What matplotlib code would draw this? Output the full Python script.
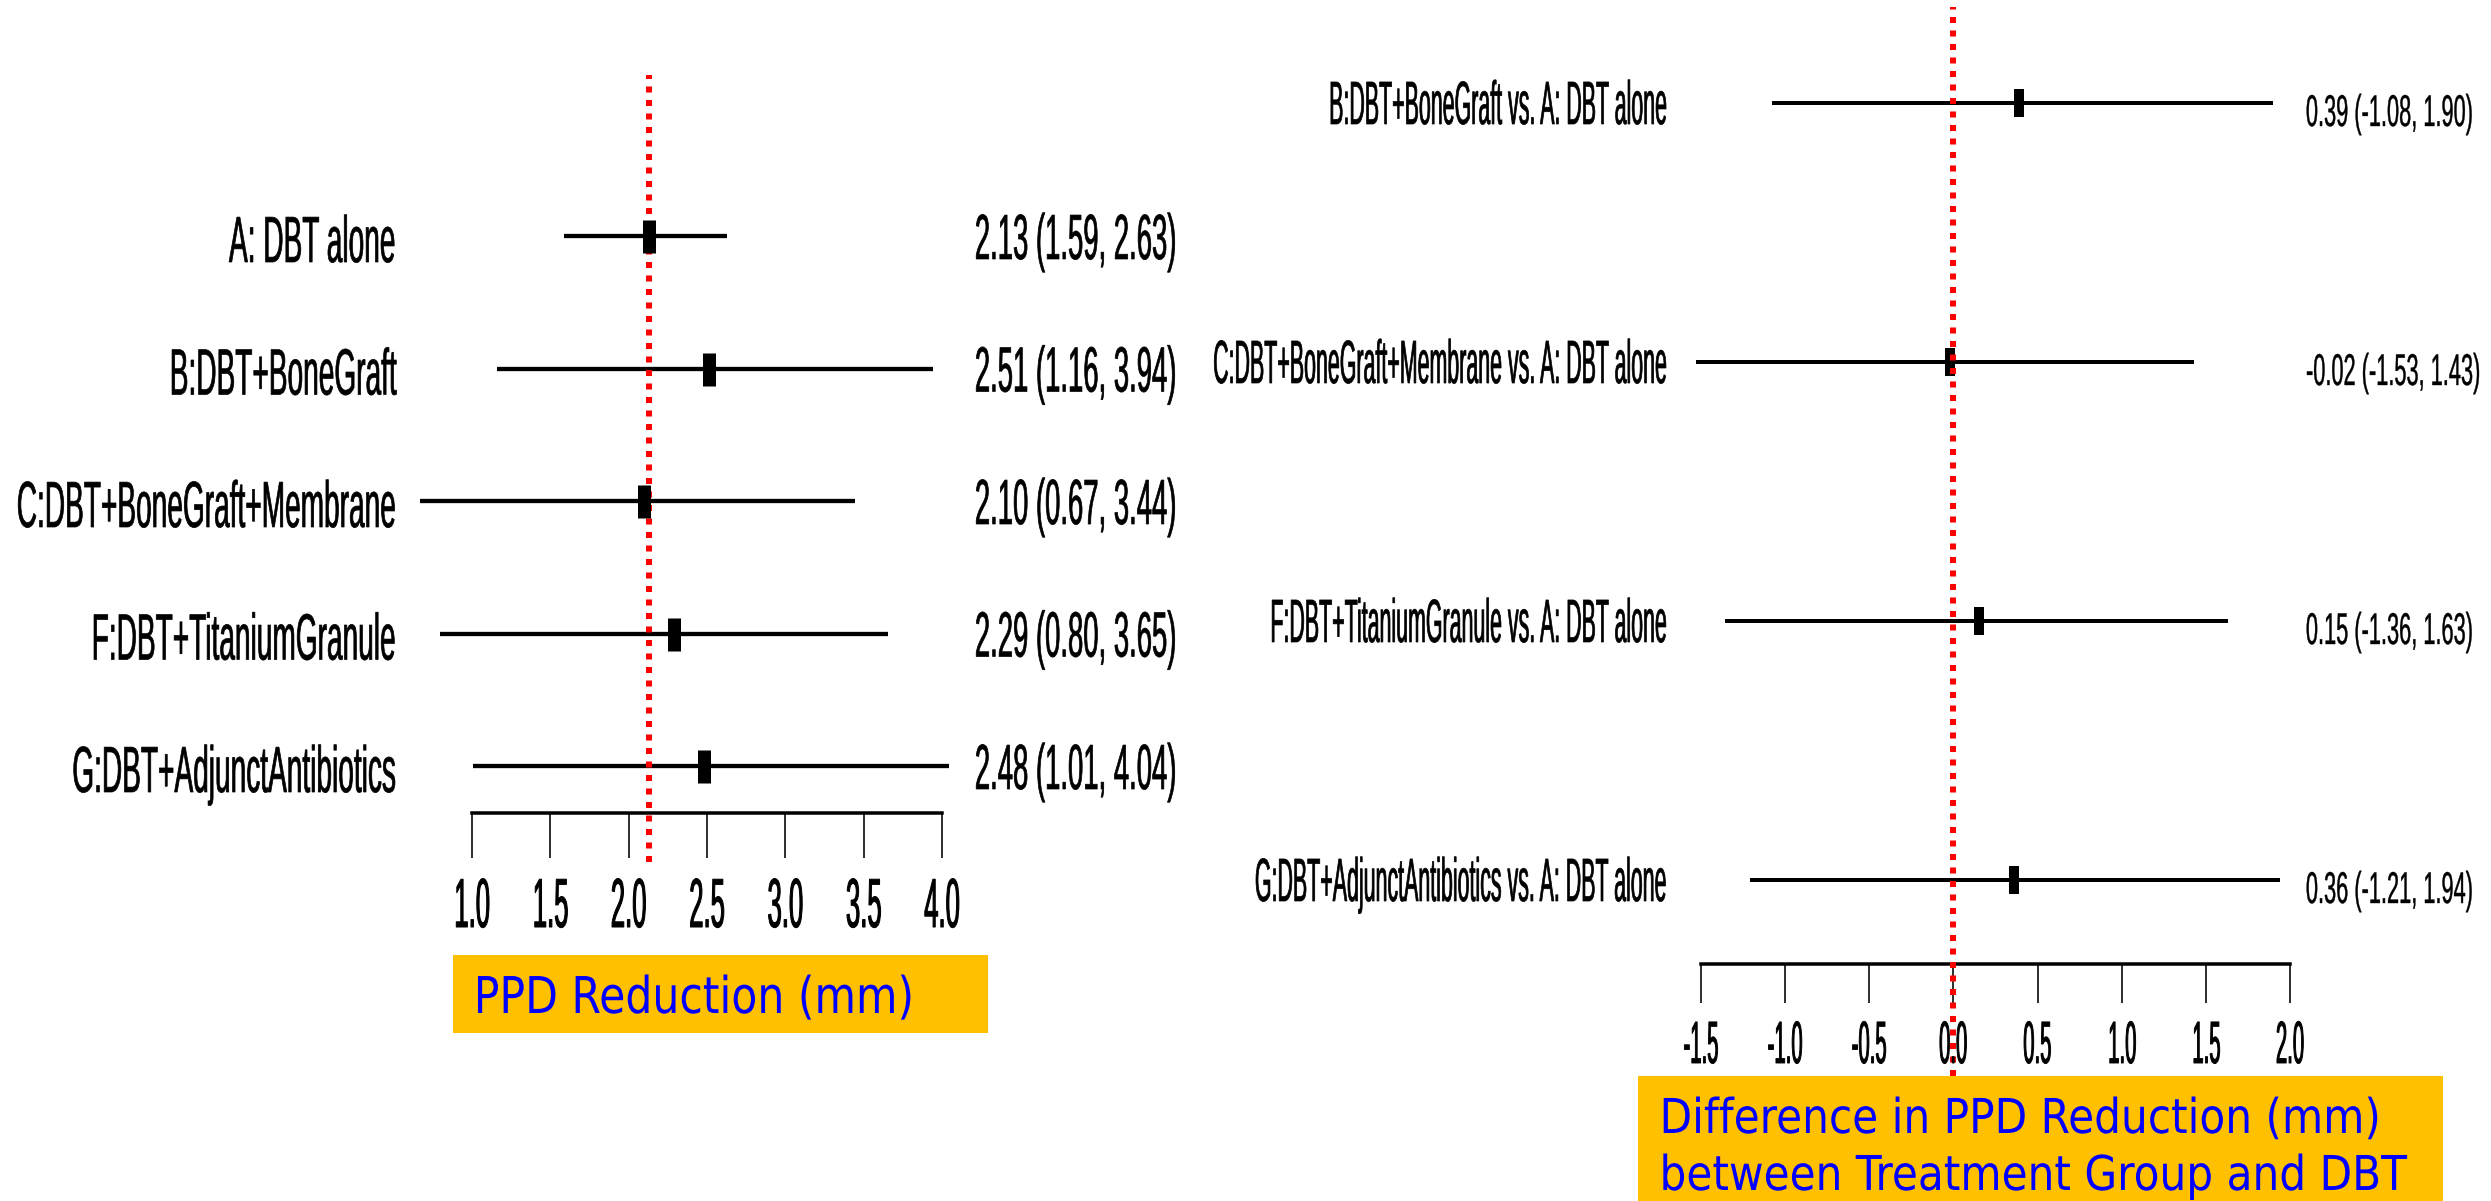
import numpy as np
import matplotlib
matplotlib.use("Agg")
import matplotlib.pyplot as plt
from matplotlib.patches import Rectangle
from matplotlib.patheffects import AbstractPathEffect
from matplotlib.text import Text
from matplotlib.transforms import Affine2D, Bbox, blended_transform_factory, offset_copy

plt.rcParams["font.family"] = ["Liberation Sans", "DejaVu Sans"]

# group means with 95% intervals, PPD reduction (mm)
group_labels = ["A: DBT alone", "B:DBT+BoneGraft", "C:DBT+BoneGraft+Membrane",
                "F:DBT+TitaniumGranule", "G:DBT+AdjunctAntibiotics"]
group_mean = [2.13, 2.51, 2.10, 2.29, 2.48]
group_lo = [1.59, 1.16, 0.67, 0.80, 1.01]
group_hi = [2.63, 3.94, 3.44, 3.65, 4.04]
group_ticks = [1.0, 1.5, 2.0, 2.5, 3.0, 3.5, 4.0]

# differences against DBT alone
diff_labels = ["B:DBT+BoneGraft vs. A: DBT alone",
               "C:DBT+BoneGraft+Membrane vs. A: DBT alone",
               "F:DBT+TitaniumGranule vs. A: DBT alone",
               "G:DBT+AdjunctAntibiotics vs. A: DBT alone"]
diff_mean = [0.39, -0.02, 0.15, 0.36]
diff_lo = [-1.08, -1.53, -1.36, -1.21]
diff_hi = [1.90, 1.43, 1.63, 1.94]
diff_ticks = [-1.5, -1.0, -0.5, 0.0, 0.5, 1.0, 1.5, 2.0]
diff_ref = 0.0

W, H = 2491, 1201
fig = plt.figure(figsize=(W / 100, H / 100), dpi=100)


def px(v):
    return v * 72 / 100


def anchor_x(x0, x1, ha):
    return {"left": x0, "center": 0.5 * (x0 + x1), "right": x1}[ha]


class Squeeze(AbstractPathEffect):
    """Draw text glyphs horizontally condensed around one edge, optionally emboldened."""

    def __init__(self, sx, anchor="left", stroke=0.0):
        super().__init__()
        self.sx = sx
        self.anchor = anchor
        self.stroke = stroke

    def draw_path(self, renderer, gc, tpath, affine, rgbFace=None):
        ext = tpath.get_extents(affine)
        x0 = anchor_x(ext.x0, ext.x1, self.anchor)
        squeeze = Affine2D().translate(-x0, 0).scale(self.sx, 1).translate(x0, 0)
        gc0 = renderer.new_gc()
        gc0.copy_properties(gc)
        gc0.set_linewidth(self.stroke)
        gc0.set_joinstyle("round")
        renderer.draw_path(gc0, tpath, affine + squeeze, rgbFace)
        gc0.restore()


class NarrowText(Text):
    """Text drawn condensed; its reported extent is condensed the same way."""

    def __init__(self, *args, sx=1.0, stroke=0.0, **kw):
        super().__init__(*args, **kw)
        self._sx = sx
        self.set_path_effects([Squeeze(sx, self.get_horizontalalignment(), stroke)])

    def get_window_extent(self, renderer=None, dpi=None):
        bb = super().get_window_extent(renderer, dpi)
        x0 = anchor_x(bb.x0, bb.x1, self.get_horizontalalignment())
        return Bbox.from_extents(x0 + (bb.x0 - x0) * self._sx, bb.y0,
                                 x0 + (bb.x1 - x0) * self._sx, bb.y1)


def narrow(x, y, s, transform, size, sx, ha, stroke=0.0, **kw):
    t = NarrowText(x, y, s, sx=sx, stroke=stroke, transform=transform, fontsize=size,
                   ha=ha, va="baseline", **kw)
    fig.add_artist(t)
    return t


def forest_axes(x0, x1, top, bottom, row0, step, xlim, axis_px, tick_px):
    ax = fig.add_axes([x0 / W, 1 - bottom / H, (x1 - x0) / W, (bottom - top) / H])
    ax.set_xlim(*xlim)
    ax.set_ylim((bottom - row0) / step, (top - row0) / step)
    ax.patch.set_visible(False)
    for side in ["top", "left", "right"]:
        ax.spines[side].set_visible(False)
    ax.set_yticks([])
    ax.spines["bottom"].set_position(("data", (axis_px - row0) / step))
    ax.spines["bottom"].set_linewidth(px(3.5))
    ax.spines["bottom"].set_bounds(*xlim)
    ax.tick_params(axis="x", direction="out", length=px(tick_px - axis_px),
                   width=px(1.6), labelbottom=False)
    return ax


def tick_labels(ax, ticks, base_px, size, sx, stroke):
    trans = blended_transform_factory(ax.transData, fig.transFigure)
    ax.set_xticks(ticks)
    for t in ticks:
        narrow(t, 1 - base_px / H, f"{t:.1f}", trans, size, sx, "center", stroke)


def row_text(ax, x_px, row, s, size, sx, ha, dy_px, stroke):
    trans = blended_transform_factory(fig.transFigure, ax.transData)
    trans = offset_copy(trans, fig=fig, y=-px(dy_px), units="points")
    narrow(x_px / W, row, s, trans, size, sx, ha, stroke)


def label_box(x0, y0, x1, y1):
    fig.add_artist(Rectangle((x0 / W, 1 - y1 / H), (x1 - x0) / W, (y1 - y0) / H,
                             transform=fig.transFigure, facecolor="#FFC000",
                             edgecolor="none", zorder=0))


def box_text(x_px, base_px, s, size, sx):
    narrow(x_px / W, 1 - base_px / H, s, fig.transFigure, size, sx, "left",
           color="#0000FF", family="DejaVu Sans")


# left panel: group estimates
ax_l = forest_axes(471.5, 942.5, 75, 862, 236, 132.5, (1.0, 4.0), 813, 858)
rows_l = np.arange(len(group_labels))
ax_l.hlines(rows_l, group_lo, group_hi, color="black", lw=px(4.3), zorder=2, clip_on=False)
ax_l.axvline(group_mean[0], color="red", lw=px(6), ls=(0, (1.0, 1.25)), zorder=3)
ax_l.plot(group_mean, rows_l, ls="none", marker="|", ms=px(33), mew=px(13),
          color="black", zorder=4, clip_on=False)
tick_labels(ax_l, group_ticks, 927, 50, 0.37, px(1.0))

for r, name, m, lo, hi in zip(rows_l, group_labels, group_mean, group_lo, group_hi):
    row_text(ax_l, 397, r, name, 47, 0.43, "right", 26, px(0.7))
    row_text(ax_l, 973, r, f"{m:.2f} ({lo:.2f}, {hi:.2f})", 46, 0.43, "left", 23, px(0.7))

label_box(453, 955, 988, 1033)
box_text(473, 1013, "PPD Reduction (mm)", 36.5, 0.84)

# right panel: differences from DBT alone
ax_r = forest_axes(1701, 2290, 7, 1076, 103, 259, (-1.5, 2.0), 964, 1003)
rows_r = np.arange(len(diff_labels))
ax_r.hlines(rows_r, diff_lo, diff_hi, color="black", lw=px(4), zorder=2, clip_on=False)
ax_r.plot(diff_mean, rows_r, ls="none", marker="|", ms=px(28), mew=px(10),
          color="black", zorder=4, clip_on=False)
ax_r.axvline(diff_ref, color="red", lw=px(6), ls=(0, (1.0, 1.25)), zorder=5)
tick_labels(ax_r, diff_ticks, 1063, 43, 0.34, px(0.9))

for r, name, m, lo, hi in zip(rows_r, diff_labels, diff_mean, diff_lo, diff_hi):
    row_text(ax_r, 1670, r, name, 44, 0.35, "right", 21, px(0.7))
    row_text(ax_r, 2305, r, f"{m:.2f} ({lo:.2f}, {hi:.2f})", 32, 0.49, "left", 23, px(0.4))

label_box(1638, 1076, 2443, 1201)
box_text(1659, 1133, "Difference in PPD Reduction (mm)", 34.6, 0.88)
box_text(1659, 1190, "between Treatment Group and DBT", 34.6, 0.88)

fig.savefig("out.png", dpi=100)
